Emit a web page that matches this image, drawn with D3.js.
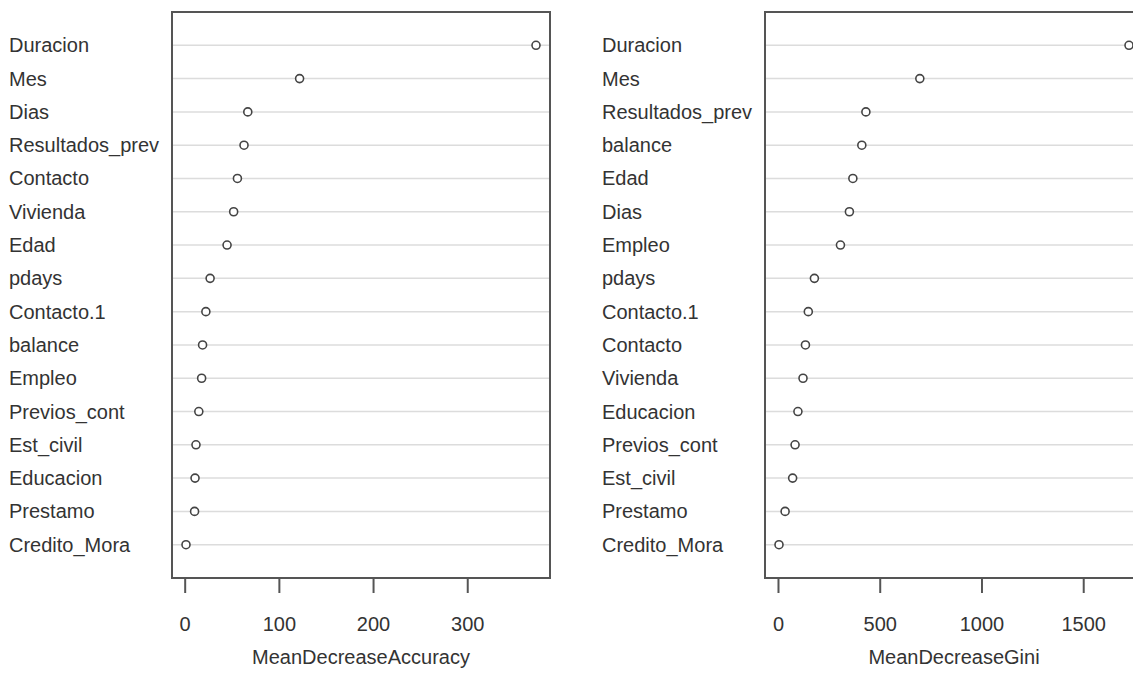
<!DOCTYPE html>
<html>
<head>
<meta charset="utf-8">
<script src="https://cdn.jsdelivr.net/npm/d3@7"></script>
<style>
  body { margin: 0; background: #fff; }
  svg text { font-family: "Liberation Sans", Arial, sans-serif; fill: #333; }
</style>
</head>
<body>
<div class="container"></div>
<script>
// variable importance, top to bottom as drawn
var accNames = ["Duracion", "Mes", "Dias", "Resultados_prev", "Contacto", "Vivienda", "Edad", "pdays",
	"Contacto.1", "balance", "Empleo", "Previos_cont", "Est_civil", "Educacion", "Prestamo", "Credito_Mora"];
var accValues = [373, 122, 67, 63, 56, 52, 45, 27, 22.5, 19, 18, 15, 12, 11, 10.5, 1.4];
var accTicks = [0, 100, 200, 300];

var giniNames = ["Duracion", "Mes", "Resultados_prev", "balance", "Edad", "Dias", "Empleo", "pdays",
	"Contacto.1", "Contacto", "Vivienda", "Educacion", "Previos_cont", "Est_civil", "Prestamo", "Credito_Mora"];
var giniValues = [1725, 697, 432, 412, 368, 351, 307, 179, 149, 135, 123, 98, 84, 72, 35, 5];
var giniTicks = [0, 500, 1000, 1500];

var width = 1133, height = 673;
var boxTop = 12, boxBottom = 578, boxWidth = 378;

var paper = d3.select('.container').append("svg")
	.attr("width", width)
	.attr("height", height);

var drawPanel = function (left, names, values, ticks, title) {
	var n = names.length;
	var lo = d3.min(values), hi = d3.max(values);
	var pad = (hi - lo) * 0.04; // R pads the range by 4%

	var x = d3.scaleLinear().domain([lo - pad, hi + pad]).range([left, left + boxWidth]);
	var y = d3.scaleLinear().domain([0, n + 1]).range([boxBottom, boxTop]);

	var g = paper.append("g");
	var rows = names.map(function (d, i) { return { name: d, value: values[i], rank: n - i }; });

	g.selectAll(".grid").data(rows).enter().append("line")
		.attr("x1", left).attr("x2", left + boxWidth)
		.attr("y1", function (d) { return y(d.rank); })
		.attr("y2", function (d) { return y(d.rank); })
		.attr("stroke", "#dcdcdc")
		.attr("stroke-width", 1.5);

	g.selectAll(".lab").data(rows).enter().append("text")
		.attr("x", left - 163)
		.attr("y", function (d) { return y(d.rank); })
		.attr("dy", "0.35em")
		.attr("font-size", 20)
		.text(function (d) { return d.name; });

	g.selectAll(".dot").data(rows).enter().append("circle")
		.attr("cx", function (d) { return x(d.value); })
		.attr("cy", function (d) { return y(d.rank); })
		.attr("r", 4)
		.attr("fill", "white")
		.attr("stroke", "#444")
		.attr("stroke-width", 1.6);

	g.append("rect")
		.attr("x", left).attr("y", boxTop)
		.attr("width", boxWidth).attr("height", boxBottom - boxTop)
		.attr("fill", "none")
		.attr("stroke", "#555")
		.attr("stroke-width", 2);

	var axis = g.append("g")
		.attr("transform", "translate(0," + boxBottom + ")")
		.call(d3.axisBottom(x).tickValues(ticks).tickSize(15).tickPadding(24).tickFormat(d3.format("d")));
	axis.select(".domain").remove();
	axis.selectAll(".tick line").attr("stroke", "#555").attr("stroke-width", 2);
	axis.selectAll(".tick text").attr("font-size", 20).attr("fill", "#333");

	g.append("text")
		.attr("x", left + boxWidth / 2)
		.attr("y", 664)
		.attr("text-anchor", "middle")
		.attr("font-size", 20)
		.text(title);
};

drawPanel(172, accNames, accValues, accTicks, "MeanDecreaseAccuracy");
drawPanel(765, giniNames, giniValues, giniTicks, "MeanDecreaseGini");
</script>
</body>
</html>
